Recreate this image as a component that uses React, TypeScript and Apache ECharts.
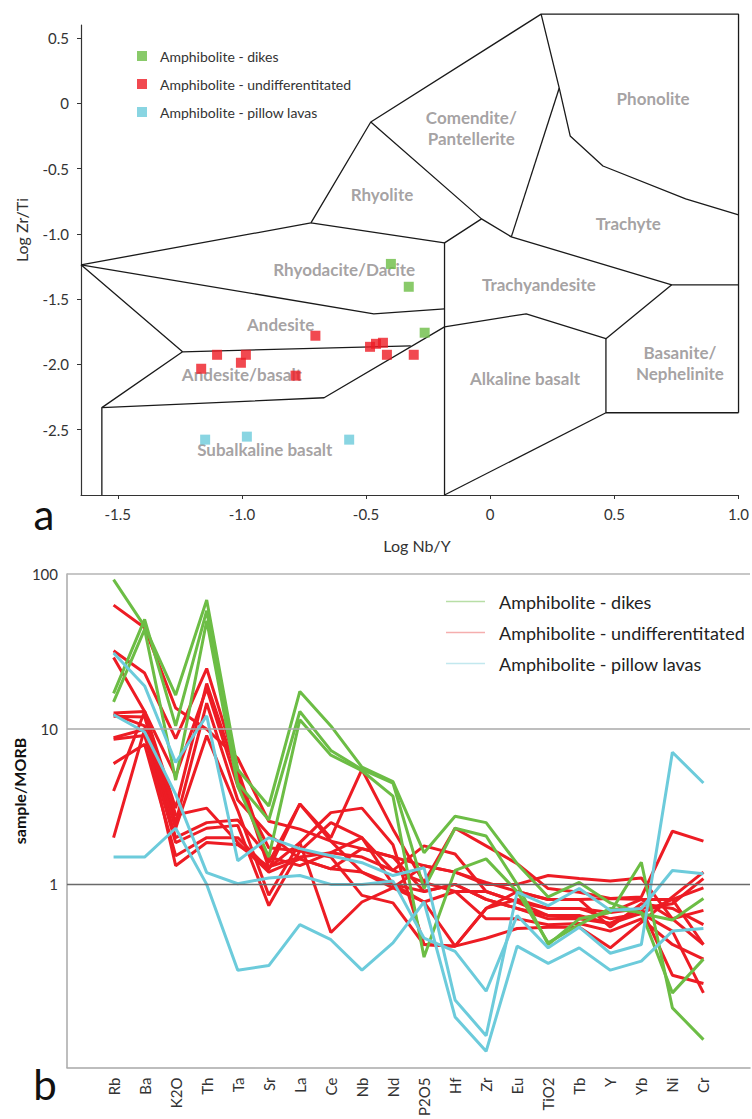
import React, { useEffect, useRef } from 'react';
import * as echarts from 'echarts';

const GREEN = '#6cbd45';
const RED = '#ed1c24';
const CYAN = '#6ccbdb';

const NAME_DIKES = 'Amphibolite - dikes';
const NAME_UND = 'Amphibolite - undifferentitated';
const NAME_PIL = 'Amphibolite - pillow lavas';

// ---------- (a) Winchester & Floyd diagram: [log Nb/Y, log Zr/Ti] ----------
const dikesPts = [[-0.4, -1.23], [-0.328, -1.405], [-0.264, -1.757]];
const undPts = [
  [-1.164, -2.033], [-1.1, -1.926], [-1.004, -1.987], [-0.984, -1.926], [-0.784, -2.086],
  [-0.704, -1.78], [-0.484, -1.865], [-0.46, -1.842], [-0.432, -1.834], [-0.416, -1.926], [-0.308, -1.926],
];
const pillowPts = [[-1.148, -2.576], [-0.98, -2.553], [-0.568, -2.576]];

const fieldLines = [
  [[-1.648, -1.237], [-0.722, -0.916], [-0.481, -0.143], [0.205, 0.683], [1.0, 0.683], [1.0, -2.37]],
  [[-0.481, -0.143], [-0.035, -0.885], [0.085, -1.023], [0.731, -1.39], [1.0, -1.39]],
  [[-0.722, -0.916], [-0.184, -1.069], [-0.035, -0.885]],
  [[0.278, 0.117], [0.085, -1.023]],
  [[0.205, 0.683], [0.278, 0.117], [0.322, -0.25], [0.454, -0.48], [0.787, -0.732], [1.0, -0.855]],
  [[-1.648, -1.237], [-0.469, -1.612], [-0.184, -1.574]],
  [[-0.184, -1.069], [-0.184, -3.0]],
  [[-1.648, -1.237], [-1.239, -1.903], [-1.564, -2.331], [-1.564, -3.0]],
  [[-1.239, -1.903], [-0.32, -1.857]],
  [[-1.564, -2.331], [-0.669, -2.255], [-0.184, -1.712], [0.145, -1.612], [0.466, -1.803], [0.731, -1.39]],
  [[0.466, -1.803], [0.466, -2.37], [1.0, -2.37]],
  [[0.466, -2.37], [-0.184, -3.0]],
];

const fieldNames = [
  'Phonolite', 'Comendite/\nPantellerite', 'Rhyolite', 'Trachyte', 'Rhyodacite/Dacite', 'Trachyandesite',
  'Andesite', 'Andesite/basalt', 'Alkaline basalt', 'Basanite/\nNephelinite', 'Subalkaline basalt',
];
const fieldLabelPos = [
  [0.656, 0.04], [-0.076, -0.19], [-0.436, -0.7], [0.556, -0.924], [-0.588, -1.275], [0.196, -1.39],
  [-0.844, -1.696], [-1.0, -2.08], [0.14, -2.11], [0.764, -1.987], [-0.908, -2.653],
];

// ---------- (b) MORB-normalised spider diagram ----------
const CATS = ['Rb', 'Ba', 'K2O', 'Th', 'Ta', 'Sr', 'La', 'Ce', 'Nb', 'Nd', 'P2O5', 'Hf', 'Zr', 'Eu', 'TiO2', 'Tb', 'Y', 'Yb', 'Ni', 'Cr'];

const dikes1 = [92, 46, 16.6, 68, 5.5, 3.2, 17.5, 10.5, 5.7, 4.6, 1.6, 2.75, 2.5, 1.36, 0.83, 1.03, 0.76, 0.65, 0.59, 0.81];
const dikes2 = [17, 51, 10.5, 58, 4.5, 2.6, 13, 7.3, 5.5, 4.5, 0.94, 2.3, 2.05, 1.0, 0.41, 0.6, 0.66, 1.39, 0.16, 0.1];
const dikes3 = [15, 44, 4.7, 50, 4.3, 1.5, 11.5, 6.8, 5.4, 3.7, 0.34, 1.23, 1.46, 0.9, 0.42, 0.55, 0.7, 0.66, 0.2, 0.33];

const und1 = [63, 45, 13.7, 10, 6.5, 2.55, 2.27, 1.9, 1.7, 1.5, 1.32, 1.2, 1.0, 1.0, 1.14, 1.09, 1.05, 1.1, 0.6, 0.41];
const und2 = [32, 23, 8.7, 24.6, 5.5, 1.38, 3.3, 2.0, 5.5, 2.27, 1.03, 2.3, 1.77, 1.36, 0.94, 0.89, 0.81, 0.83, 2.2, 1.9];
const und3 = [29, 13, 3.1, 19.7, 5.0, 1.28, 1.86, 2.9, 3.1, 1.8, 0.41, 0.4, 0.45, 0.52, 0.53, 0.53, 0.39, 0.57, 0.83, 1.2];
const und4 = [12.7, 13, 5.0, 18.3, 4.3, 1.72, 1.64, 2.5, 2.0, 1.23, 1.77, 1.57, 0.9, 0.77, 0.63, 0.63, 0.56, 0.7, 0.75, 1.09];
const und5 = [12.1, 12, 2.5, 14.7, 3.5, 2.1, 1.46, 1.26, 1.2, 1.0, 0.9, 1.0, 0.8, 0.7, 0.6, 0.6, 0.66, 0.8, 0.8, 0.95];
const und6 = [12.5, 10.5, 2.3, 9.1, 3.0, 0.85, 1.86, 0.49, 0.77, 0.95, 0.77, 0.4, 0.7, 0.8, 0.7, 0.7, 0.6, 0.65, 0.5, 0.2];
const und7 = [8.8, 10, 2.0, 2.5, 2.6, 1.5, 1.32, 1.6, 1.5, 1.23, 1.03, 0.9, 0.6, 0.6, 0.55, 0.56, 0.5, 0.6, 0.41, 0.33];
const und8 = [8.6, 9.1, 1.86, 2.3, 2.4, 0.73, 1.64, 1.5, 0.85, 0.76, 0.41, 0.4, 0.7, 0.9, 0.8, 0.8, 0.53, 0.75, 0.7, 0.55];
const und9 = [6.0, 8, 1.53, 2.0, 2.0, 1.25, 3.3, 1.9, 1.2, 0.95, 1.32, 1.2, 1.03, 0.9, 0.8, 0.8, 0.81, 0.8, 0.6, 0.68];
const und10 = [4.0, 13, 2.8, 3.1, 1.86, 1.2, 1.46, 1.26, 1.7, 1.5, 0.9, 1.0, 0.8, 0.7, 0.63, 0.6, 0.56, 0.65, 0.8, 0.41];
const und11 = [2.0, 10, 1.32, 1.86, 1.8, 1.3, 1.5, 1.6, 2.0, 1.0, 0.77, 0.9, 0.9, 0.77, 0.7, 0.7, 0.66, 0.7, 0.26, 0.23];

const pil1 = [31, 19, 6.1, 12.2, 1.42, 2.0, 1.7, 1.53, 1.38, 1.14, 1.28, 0.18, 0.106, 0.89, 0.73, 0.94, 0.68, 0.7, 1.23, 1.17];
const pil2 = [12.4, 9.6, 3.8, 1.19, 1.01, 1.1, 1.14, 1.0, 1.0, 1.05, 0.45, 0.37, 0.205, 0.63, 0.39, 0.53, 0.36, 0.41, 7.1, 4.5];
const pil3 = [1.5, 1.5, 2.3, 1.0, 0.28, 0.3, 0.55, 0.44, 0.28, 0.42, 0.77, 0.14, 0.084, 0.4, 0.31, 0.39, 0.28, 0.32, 0.5, 0.52];

const dikesLines = [dikes1, dikes2, dikes3];
const undLines = [und1, und2, und3, und4, und5, und6, und7, und8, und9, und10, und11];
const pilLines = [pil1, pil2, pil3];

const FONT = 'Lato';

function fmt1(v: number) {
  if (Math.abs(v) < 1e-9) return '0';
  return v.toFixed(1);
}

function buildOption() {
  const series: any[] = [];

  // field boundaries
  fieldLines.forEach((pts, i) => {
    series.push({
      type: 'line',
      id: 'field' + i,
      xAxisIndex: 0,
      yAxisIndex: 0,
      data: pts,
      clip: false,
      showSymbol: false,
      symbol: 'none',
      silent: true,
      lineStyle: { color: '#1a1a1a', width: 1.3 },
      z: 1,
    });
  });

  // field names
  series.push({
    type: 'scatter',
    id: 'fieldNames',
    xAxisIndex: 0,
    yAxisIndex: 0,
    symbolSize: 0,
    silent: true,
    data: fieldNames.map((n, i) => ({ name: n, value: fieldLabelPos[i] })),
    label: {
      show: true,
      position: 'inside',
      formatter: '{b}',
      color: '#8e8a8b',
      fontSize: 17,
      fontWeight: 'bold',
      fontFamily: FONT,
      lineHeight: 21,
      align: 'center',
    },
    z: 2,
  });

  const pts: [string, number[][], string][] = [
    [NAME_DIKES, dikesPts, GREEN],
    [NAME_UND, undPts, RED],
    [NAME_PIL, pillowPts, CYAN],
  ];
  pts.forEach(([name, data, color]) => {
    series.push({
      type: 'scatter',
      name,
      xAxisIndex: 0,
      yAxisIndex: 0,
      symbol: 'rect',
      symbolSize: 10,
      data,
      itemStyle: { color },
      z: 3,
    });
  });

  // gridlines for the log chart
  series.push({
    type: 'line',
    id: 'gridRef',
    xAxisIndex: 1,
    yAxisIndex: 1,
    data: [],
    silent: true,
    markLine: {
      silent: true,
      symbol: 'none',
      label: { show: false },
      data: [
        { yAxis: 100, lineStyle: { color: '#b4b4b4', width: 1.5, type: 'solid' } },
        { yAxis: 10, lineStyle: { color: '#a8a8a8', width: 1.5, type: 'solid' } },
        { yAxis: 1, lineStyle: { color: '#6a6a6a', width: 1.3, type: 'solid' } },
      ],
    },
    z: 1,
  });

  const addLines = (name: string, lines: number[][], color: string) => {
    lines.forEach((vals) => {
      series.push({
        type: 'line',
        name,
        xAxisIndex: 1,
        yAxisIndex: 1,
        data: CATS.map((c, i) => [c, vals[i]]),
        showSymbol: false,
        symbol: 'none',
        lineStyle: { color, width: 3 },
        itemStyle: { color },
        z: 3,
      });
    });
  };
  addLines(NAME_UND, undLines, RED);
  addLines(NAME_DIKES, dikesLines, GREEN);
  addLines(NAME_PIL, pilLines, CYAN);

  return {
    animation: false,
    backgroundColor: '#ffffff',
    textStyle: { fontFamily: FONT },
    grid: [
      { left: 81, top: 25, width: 660, height: 470 },
      { left: 67, top: 574, width: 683, height: 501 },
    ],
    xAxis: [
      {
        gridIndex: 0,
        type: 'value',
        min: -1.648,
        max: 1.0,
        splitNumber: 5,
        splitLine: { show: false },
        axisLine: { show: true, onZero: false, lineStyle: { color: '#333', width: 1.2 } },
        axisTick: { show: true, length: 4, lineStyle: { color: '#333' } },
        axisLabel: { showMinLabel: false, color: '#333', fontSize: 15, margin: 11, formatter: fmt1, fontFamily: FONT },
      },
      {
        gridIndex: 1,
        type: 'category',
        data: ['', ...CATS, ' '],
        boundaryGap: true,
        splitLine: { show: false },
        axisLine: { show: true, lineStyle: { color: '#a8a8a8', width: 1.5 } },
        axisTick: { show: false },
        axisLabel: { rotate: 90, interval: 0, fontSize: 15, color: '#333', margin: 10, fontFamily: FONT },
      },
    ],
    yAxis: [
      {
        gridIndex: 0,
        type: 'value',
        min: -3,
        max: 0.6,
        interval: 0.5,
        splitLine: { show: false },
        axisLine: { show: true, onZero: false, lineStyle: { color: '#333', width: 1.2 } },
        axisTick: { show: true, length: 4, lineStyle: { color: '#333' } },
        axisLabel: { showMinLabel: false, showMaxLabel: false, color: '#333', fontSize: 15, margin: 12, formatter: fmt1, fontFamily: FONT },
      },
      {
        gridIndex: 1,
        type: 'log',
        logBase: 10,
        min: 0.066,
        max: 100,
        splitLine: { show: false },
        axisLine: { show: true, lineStyle: { color: '#a8a8a8', width: 1.5 } },
        axisTick: { show: false },
        axisLabel: {
          color: '#333',
          fontSize: 15,
          margin: 9,
          fontFamily: FONT,
          formatter: (v: number) => {
            const r = Math.round(v * 1000) / 1000;
            return r === 1 ? '1' : r === 10 ? '10' : r === 100 ? '100' : '';
          },
        },
      },
    ],
    legend: [
      {
        orient: 'vertical',
        left: 132,
        top: 43,
        icon: 'rect',
        itemWidth: 10,
        itemHeight: 10,
        itemGap: 12,
        selectedMode: false,
        data: [
          { name: NAME_DIKES, itemStyle: { color: GREEN } },
          { name: NAME_UND, itemStyle: { color: RED } },
          { name: NAME_PIL, itemStyle: { color: CYAN } },
        ],
        textStyle: { fontSize: 14, color: '#333', lineHeight: 16, padding: [0, 0, 0, 8], fontFamily: FONT },
      },
      {
        orient: 'vertical',
        left: 441,
        top: 587,
        icon: 'rect',
        itemWidth: 39,
        itemHeight: 1.4,
        itemGap: 12,
        selectedMode: false,
        data: [
          { name: NAME_DIKES, itemStyle: { color: '#a6d690', borderWidth: 0 }, lineStyle: { color: '#a6d690', width: 1.2 } },
          { name: NAME_UND, itemStyle: { color: '#f39a9a', borderWidth: 0 }, lineStyle: { color: '#f39a9a', width: 1.2 } },
          { name: NAME_PIL, itemStyle: { color: '#b3e2ea', borderWidth: 0 }, lineStyle: { color: '#b3e2ea', width: 1.2 } },
        ],
        textStyle: { fontSize: 18, color: '#222', lineHeight: 19, padding: [0, 0, 0, 9], fontFamily: FONT },
      },
    ],
    graphic: [
      {
        type: 'text',
        x: 21,
        y: 230,
        rotation: Math.PI / 2,
        style: { text: 'Log Zr/Ti', fontSize: 16, fill: '#333', align: 'center', verticalAlign: 'middle', fontFamily: FONT },
      },
      {
        type: 'text',
        x: 417,
        y: 545,
        style: { text: 'Log Nb/Y', fontSize: 16, fill: '#333', align: 'center', verticalAlign: 'middle', fontFamily: FONT },
      },
      {
        type: 'text',
        x: 44,
        y: 514,
        style: { text: 'a', fontSize: 42, fill: '#111', align: 'center', verticalAlign: 'middle', fontFamily: FONT },
      },
      {
        type: 'text',
        x: 45,
        y: 1084,
        style: { text: 'b', fontSize: 42, fill: '#111', align: 'center', verticalAlign: 'middle', fontFamily: FONT },
      },
      {
        type: 'text',
        x: 19,
        y: 791,
        rotation: Math.PI / 2,
        style: { text: 'sample/MORB', fontSize: 16, fontWeight: 'bold', fill: '#111', align: 'center', verticalAlign: 'middle', fontFamily: FONT },
      },
    ],
    series,
  };
}

export default function App() {
  const ref = useRef<HTMLDivElement>(null);
  useEffect(() => {
    if (!ref.current) return;
    const chart = echarts.init(ref.current, undefined, { renderer: 'svg' });
    chart.setOption(buildOption() as any);
    return () => chart.dispose();
  }, []);
  return <div ref={ref} style={{ position: 'absolute', left: 0, top: 0, width: 752, height: 1119 }} />;
}
